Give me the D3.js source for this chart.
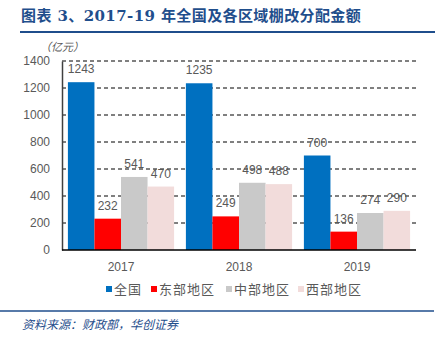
<!DOCTYPE html>
<html><head><meta charset="utf-8">
<script src="https://cdn.jsdelivr.net/npm/d3@7"></script>
<style>body{margin:0;background:#fff}svg{display:block}</style>
</head><body>
<script>
const categories = ["2017", "2018", "2019"];
const seriesNames = ["全国", "东部地区", "中部地区", "西部地区"];
const seriesColors = ["#0070c0", "#ff0000", "#c9c9c9", "#f2dcdb"];
const national = [1243, 1235, 700];
const east = [232, 249, 136];
const central = [541, 498, 274];
const west = [470, 488, 290];
const yTicks = [0, 200, 400, 600, 800, 1000, 1200, 1400];
const titleText = "图表 3、2017-19 年全国及各区域棚改分配金额";
const unitText = "（亿元）";
const sourceText = "资料来源：财政部，华创证券";

const seriesValues = [national, east, central, west];
const W = 443, H = 343;
const svg = d3.select("body").append("svg").attr("width", W).attr("height", H);
const cjk = "'Noto Sans CJK SC', sans-serif";
const latin = "'Liberation Sans', Arial, sans-serif";

// title
svg.append("text").attr("x", 21).attr("y", 21).attr("fill", "#1f4e8c")
  .attr("font-family", "'DejaVu Serif', 'Noto Sans CJK SC', serif").attr("font-weight", "bold")
  .attr("font-size", 15).attr("letter-spacing", 0.4).text(titleText);
svg.append("line").attr("x1", 20).attr("x2", 435).attr("y1", 32).attr("y2", 32)
  .attr("stroke", "#1f4e8c").attr("stroke-width", 2);

const x0 = 62, x1 = 416, yTop = 61, yBot = 250;
const x = d3.scaleBand().domain(categories).range([x0, x1]).paddingInner(0.1).paddingOuter(0.05);
const xs = d3.scaleBand().domain(d3.range(4)).range([0, x.bandwidth()]);
const y = d3.scaleLinear().domain([0, 1400]).range([yBot, yTop]);

// grid
svg.append("g").selectAll("line").data(yTicks.filter(d => d > 0)).join("line")
  .attr("x1", x0).attr("x2", x1).attr("y1", d => y(d)).attr("y2", d => y(d))
  .attr("stroke", "#000").attr("stroke-width", 1).attr("stroke-dasharray", "4,3");

// bars
const groups = svg.append("g").selectAll("g").data(categories).join("g")
  .attr("transform", d => `translate(${x(d)},0)`);
groups.each(function(cat, ci) {
  const g = d3.select(this);
  seriesValues.forEach((vals, si) => {
    const v = vals[ci];
    g.append("rect").attr("x", xs(si)).attr("width", xs.bandwidth())
      .attr("y", y(v)).attr("height", y(0) - y(v)).attr("fill", seriesColors[si]);
    g.append("text").attr("x", xs(si) + xs.bandwidth() / 2).attr("y", y(v) - 9)
      .attr("text-anchor", "middle").attr("font-family", latin).attr("font-size", 12)
      .attr("fill", "#595959").text(v);
  });
});

// y axis
const yAxis = d3.axisLeft(y).tickValues(yTicks).tickFormat(d3.format("d")).tickSize(0).tickPadding(12);
const ya = svg.append("g").attr("transform", `translate(${x0},0)`).call(yAxis);
ya.select(".domain").attr("stroke", "#404040").attr("stroke-width", 1.5);
ya.selectAll("text").attr("font-family", latin).attr("font-size", 12).attr("fill", "#595959");

// x axis
const xAxis = d3.axisBottom(x).tickSize(0).tickPadding(12);
const xa = svg.append("g").attr("transform", `translate(0,${yBot})`).call(xAxis);
xa.select(".domain").attr("stroke", "#000").attr("stroke-width", 1.5).attr("d", `M${x0},0H${x1}`);
xa.selectAll("text").attr("font-family", latin).attr("font-size", 12).attr("fill", "#595959");

// unit
svg.append("text").attr("x", 40).attr("y", 51).attr("font-family", cjk).attr("font-size", 11)
  .attr("fill", "#595959").attr("font-style", "italic").text(unitText);

// legend
const legendX = [106, 151, 226, 298];
const lg = svg.append("g").selectAll("g").data(seriesNames).join("g")
  .attr("transform", (d, i) => `translate(${legendX[i]},289)`);
lg.append("rect").attr("x", 0).attr("y", -3).attr("width", 6).attr("height", 6)
  .attr("fill", (d, i) => seriesColors[i]);
lg.append("text").attr("x", 8).attr("y", 5).attr("font-family", cjk).attr("font-size", 13)
  .attr("letter-spacing", 1).attr("fill", "#595959").text(d => d);

// bottom rule and source
svg.append("line").attr("x1", 0).attr("x2", 434).attr("y1", 311).attr("y2", 311)
  .attr("stroke", "#1f4e8c").attr("stroke-width", 1.5);
svg.append("text").attr("x", 22).attr("y", 329).attr("font-family", cjk).attr("font-size", 12)
  .attr("font-style", "italic").attr("fill", "#1f4e8c").text(sourceText);
</script>
</body></html>
